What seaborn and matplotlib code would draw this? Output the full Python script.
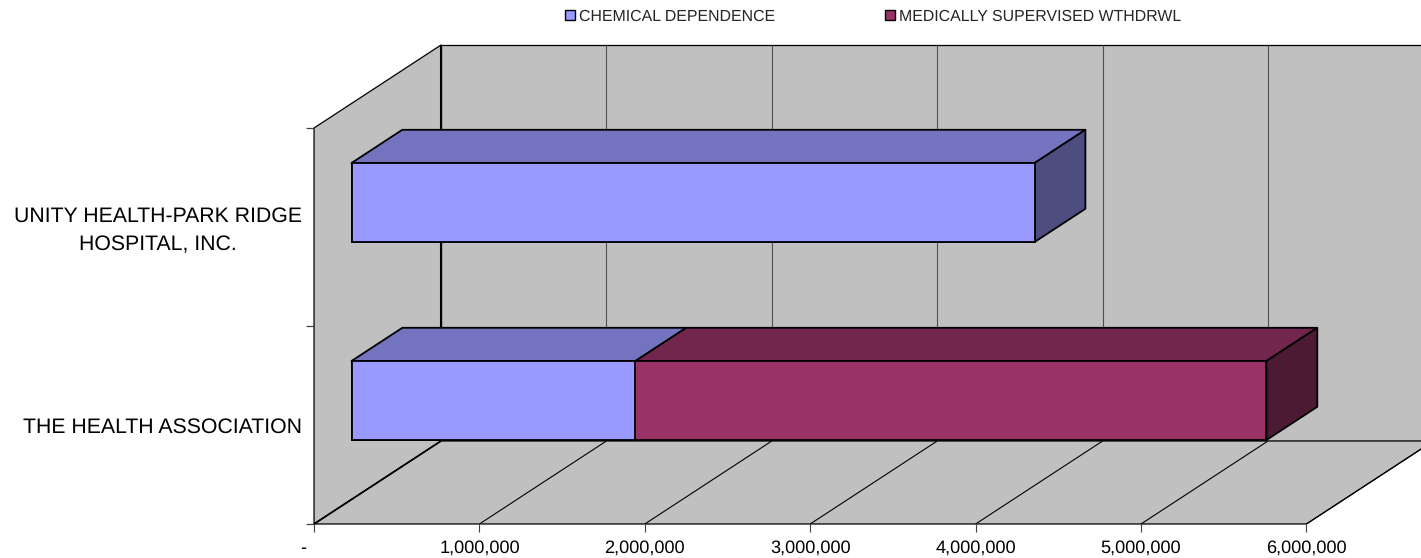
import matplotlib
matplotlib.use("Agg")
import matplotlib.pyplot as plt
import numpy as np
import seaborn as sns
from matplotlib.patches import Patch

# values
categories = ["UNITY HEALTH-PARK RIDGE\nHOSPITAL, INC.", "THE HEALTH ASSOCIATION"]
chemical = np.array([4130000, 1717000])
medical = np.array([0, 3815000])
x_ticks = np.arange(0, 7000000, 1000000)
x_labels = ["-", "1,000,000", "2,000,000", "3,000,000", "4,000,000", "5,000,000", "6,000,000"]
series_names = ["CHEMICAL DEPENDENCE", "MEDICALLY SUPERVISED WTHDRWL"]

blue, blue_top, blue_side = "#9999FF", "#7373BF", "#4D4D80"
red, red_top, red_side = "#993366", "#73264D", "#4D1A33"
wall = "#C0C0C0"

# pixel scales of the fake 3d box
px_per_val = 165.4 / 1e6
px_per_cat = 198.0
depth_dx = 127 / px_per_val
depth_dy = -83 / px_per_cat
bar_d0, bar_d1 = 0.295, 0.695
bar_w = 79 / px_per_cat


def pt(v, c, d):
    # value, category position, depth -> data coords
    return v + (d - bar_d0) * depth_dx, c + (d - bar_d0) * depth_dy


def face(corners, color, lw=1.3, z=2):
    xy = np.array([pt(*c) for c in corners])
    ax.fill(xy[:, 0], xy[:, 1], facecolor=color, edgecolor="black", linewidth=lw, zorder=z, joinstyle="round")


def line(a, b, color="black", lw=0.7, z=0.5):
    xy = np.array([pt(*a), pt(*b)])
    ax.plot(xy[:, 0], xy[:, 1], color=color, lw=lw, zorder=z, solid_capstyle="butt")


sns.set_theme(style="white")
plt.rcParams["font.family"] = ["Liberation Sans", "DejaVu Sans"]
plt.rcParams["text.hinting"] = "no_hinting"

fig = plt.figure(figsize=(14.21, 5.58), dpi=100)
ax = fig.add_axes([0, 0, 1, 1])

# stacked bars: total underneath, first series on top
totals = chemical + medical
bar_kws = dict(orient="h", width=bar_w, saturation=1, edgecolor="black", linewidth=1.3, zorder=3, ax=ax)
sns.barplot(x=totals, y=categories, color=red, **bar_kws)
sns.barplot(x=chemical, y=categories, color=blue, **bar_kws)

# walls and floor
c0, c1 = -0.5, 1.5
vmax = x_ticks[-1]
face([(0, c0, 0), (0, c1, 0), (0, c1, 1), (0, c0, 1)], wall, lw=0.9, z=0)
face([(0, c0, 1), (vmax, c0, 1), (vmax, c1, 1), (0, c1, 1)], wall, lw=0.9, z=0)
face([(0, c1, 0), (vmax, c1, 0), (vmax, c1, 1), (0, c1, 1)], wall, lw=0.9, z=0)

# grid
for i, v in enumerate(x_ticks):
    strong = i == 0
    line((v, c1, 0), (v, c1, 1), lw=1.2 if strong else 0.8)
    line((v, c1, 1), (v, c0, 1), color="black" if strong else "#505050", lw=1.5 if strong else 0.8)
    line((v, c1, 0), (v, c1 + 8 / px_per_cat, 0), color="#404040", lw=0.8)
    ax.annotate(x_labels[i], pt(v, c1, 0), xytext=(-11 if strong else 0, -24), textcoords="offset pixels",
                ha="center", va="center", fontsize=13.1, color="black", zorder=5)

for c in [c0, 0.5, c1]:
    x0, y0 = pt(0, c, 0)
    ax.plot([x0 - 8 / px_per_val, x0], [y0, y0], color="#404040", lw=0.9, zorder=0.5, solid_capstyle="butt")

# top and end faces of the bars
for i in range(len(categories)):
    top = i - bar_w / 2
    bottom = i + bar_w / 2
    segments = [(0, chemical[i], blue_top, blue_side), (chemical[i], totals[i], red_top, red_side)]
    for v0, v1, col_top, col_side in segments:
        if v1 <= v0:
            continue
        face([(v0, top, bar_d0), (v1, top, bar_d0), (v1, top, bar_d1), (v0, top, bar_d1)], col_top)
    end_side = red_side if medical[i] > 0 else blue_side
    v = totals[i]
    face([(v, top, bar_d0), (v, bottom, bar_d0), (v, bottom, bar_d1), (v, top, bar_d1)], end_side)

# category labels, nudged a little to sit where the reference has them
label_dy = [-4, -2]
for i, name in enumerate(categories):
    ax.annotate(name, pt(0, i, 0), xytext=(-12, label_dy[i]), textcoords="offset pixels", ha="right", va="center",
                multialignment="center", fontsize=15.3, linespacing=1.6, color="black", annotation_clip=False)

ax.set_xlim(-351.5 / px_per_val, (1421 - 351.5) / px_per_val)
ax.set_ylim((558 - 202.5) / px_per_cat, -202.5 / px_per_cat)
ax.axis("off")

handles = [Patch(facecolor=blue, edgecolor="black", linewidth=1.0), Patch(facecolor=red, edgecolor="black", linewidth=1.0)]
ax.legend(handles, series_names, loc="upper left", bbox_to_anchor=(565 / 1421, 1 - 9 / 558), bbox_transform=fig.transFigure,
          ncol=2, frameon=False, fontsize=11.4, handlelength=0.63, handleheight=0.63, handletextpad=0.25,
          columnspacing=6.95, borderpad=0, borderaxespad=0, labelspacing=0)

fig.savefig("out.png", dpi=100)
